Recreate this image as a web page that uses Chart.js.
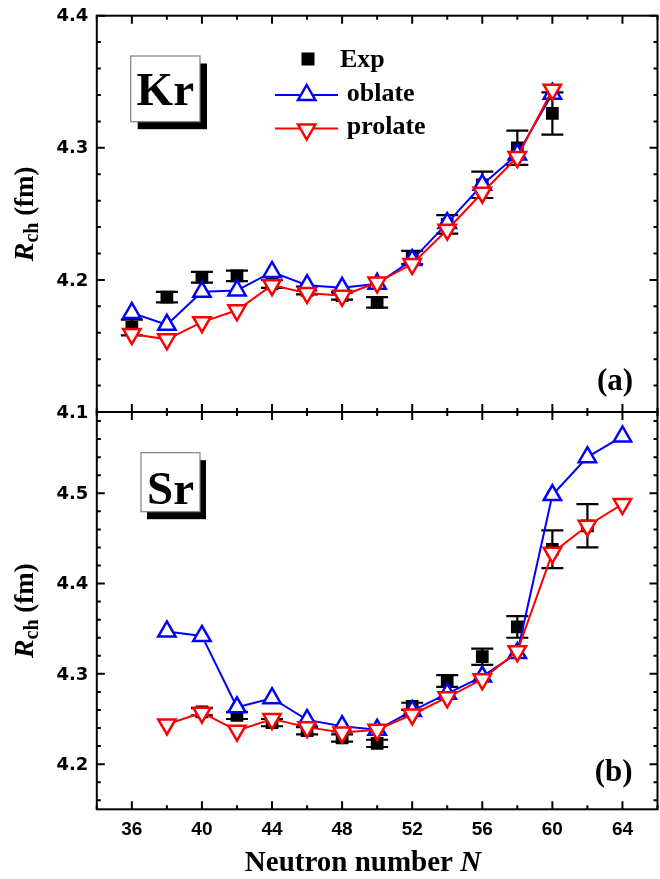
<!DOCTYPE html>
<html>
<head>
<meta charset="utf-8">
<script src="https://cdn.jsdelivr.net/npm/chart.js@4.4.1/dist/chart.umd.min.js"></script>
<style>
  html, body { margin: 0; padding: 0; background: #fff; }
  #wrap { position: relative; width: 660px; height: 879px; overflow: hidden; background: #fff; }
  #wrap canvas { position: absolute; left: 0; top: 0; }
</style>
</head>
<body>
<div id="wrap">
  <canvas id="srChart" width="670" height="879"></canvas>
  <canvas id="krChart" width="670" height="879"></canvas>
</div>
<script>
// Kr (panel a)
const krN = [36, 38, 40, 42, 44, 46, 48, 50, 52, 54, 56, 58, 60];
const krExp = [4.164, 4.187, 4.202, 4.203, 4.197, 4.192, 4.188, 4.183, 4.217, 4.242, 4.272, 4.300, 4.326];
const krExpErr = [0.006, 0.004, 0.004, 0.004, 0.003, 0.003, 0.003, 0.004, 0.005, 0.007, 0.010, 0.013, 0.016];
const krOblate = [4.175, 4.166, 4.191, 4.192, 4.206, 4.196, 4.194, 4.197, 4.215, 4.243, 4.272, 4.295, 4.341];
const krProlate = [4.159, 4.155, 4.168, 4.177, 4.196, 4.190, 4.188, 4.198, 4.212, 4.238, 4.266, 4.293, 4.344];

// Sr (panel b)
const srN = [38, 40, 42, 44, 46, 48, 50, 52, 54, 56, 58, 60, 62, 64];
const srOblate = [4.347, 4.342, 4.263, 4.273, 4.249, 4.242, 4.238, 4.259, 4.278, 4.297, 4.323, 4.498, 4.540, 4.563];
const srProlate = [4.244, 4.257, 4.237, 4.250, 4.241, 4.235, 4.238, 4.255, 4.274, 4.294, 4.325, 4.434, 4.464, 4.488];
const srExpN = [40, 42, 44, 46, 48, 50, 52, 54, 56, 58, 60, 62];
const srExp = [4.258, 4.254, 4.246, 4.237, 4.229, 4.223, 4.264, 4.292, 4.319, 4.352, 4.438, 4.464];
const srExpErr = [0.004, 0.004, 0.004, 0.004, 0.004, 0.004, 0.004, 0.0065, 0.009, 0.012, 0.021, 0.024];

// axis ticks
const xMajorTicks = [36, 40, 44, 48, 52, 56, 60, 64];
const xRange = [34, 66];
const krRange = [4.1, 4.4];
const srRange = [4.15, 4.59];

const SERIF = '"Liberation Serif", "Times New Roman", serif';
const W = 670, H = 879;

function pts(ns, vals) { return ns.map((n, i) => ({ x: n, y: vals[i] })); }

function theory(label, ns, vals, color, rot, order) {
  return {
    label, data: pts(ns, vals), showLine: true, tension: 0,
    borderColor: color, borderWidth: 2,
    pointStyle: 'triangle', pointRotation: rot, pointRadius: 10,
    pointBorderColor: color, pointBorderWidth: 2.5, pointBackgroundColor: '#fff',
    order
  };
}

function expSet(ns, vals) {
  return {
    label: 'Exp', data: pts(ns, vals), showLine: false,
    pointStyle: 'rect', pointRadius: 9, pointBackgroundColor: '#000',
    pointBorderWidth: 0, borderColor: '#000', order: 3
  };
}

function tri(ctx, x, y, r, down, color) {
  const s = down ? -1 : 1;
  ctx.beginPath();
  ctx.moveTo(x, y - s * r);
  ctx.lineTo(x + r * 0.866, y + s * r / 2);
  ctx.lineTo(x - r * 0.866, y + s * r / 2);
  ctx.closePath();
  ctx.fillStyle = '#fff'; ctx.fill();
  ctx.strokeStyle = color; ctx.lineWidth = 2.5; ctx.stroke();
}

function elementBox(ctx, x, y, w, h, dx, dy, text, tx, ty) {
  ctx.fillStyle = '#000';
  ctx.fillRect(x + dx, y + dy, w, h);
  ctx.fillStyle = '#fff';
  ctx.fillRect(x, y, w, h);
  ctx.strokeStyle = '#7f7f7f'; ctx.lineWidth = 1.2;
  ctx.strokeRect(x, y, w, h);
  ctx.fillStyle = '#000';
  ctx.font = 'bold 47px ' + SERIF;
  ctx.textAlign = 'center'; ctx.textBaseline = 'alphabetic';
  ctx.fillText(text, tx, ty);
}

function yTitle(ctx, cy) {
  ctx.save();
  ctx.translate(33, cy);
  ctx.rotate(-Math.PI / 2);
  ctx.fillStyle = '#000';
  ctx.textBaseline = 'alphabetic'; ctx.textAlign = 'left';
  const f1 = 'italic bold 28px ' + SERIF, f2 = 'bold 20px ' + SERIF, f3 = 'bold 27px ' + SERIF;
  ctx.font = f1; const w1 = ctx.measureText('R').width;
  ctx.font = f2; const w2 = ctx.measureText('ch').width;
  ctx.font = f3; const w3 = ctx.measureText(' (fm)').width;
  const x0 = -(w1 + w2 + w3) / 2;
  ctx.font = f1; ctx.fillText('R', x0, 0);
  ctx.font = f2; ctx.fillText('ch', x0 + w1, 5);
  ctx.font = f3; ctx.fillText(' (fm)', x0 + w1 + w2, 0);
  ctx.restore();
}

function panelPlugin(cfg) {
  return {
    id: 'panel',
    beforeDatasetsDraw(chart) {
      const { ctx, scales: { x, y } } = chart;
      ctx.save();
      ctx.strokeStyle = '#000'; ctx.lineWidth = 2.2;
      cfg.expN.forEach((n, i) => {
        const px = x.getPixelForValue(n);
        const y1 = y.getPixelForValue(cfg.exp[i] - cfg.err[i]);
        const y2 = y.getPixelForValue(cfg.exp[i] + cfg.err[i]);
        ctx.beginPath();
        ctx.moveTo(px, y1); ctx.lineTo(px, y2);
        ctx.moveTo(px - 11, y1); ctx.lineTo(px + 11, y1);
        ctx.moveTo(px - 11, y2); ctx.lineTo(px + 11, y2);
        ctx.stroke();
      });
      ctx.restore();
    },
    afterDraw(chart) {
      const { ctx, chartArea: a, scales: { x, y } } = chart;
      ctx.save();
      ctx.strokeStyle = '#000'; ctx.lineWidth = 2;
      ctx.strokeRect(a.left, a.top, a.right - a.left, a.bottom - a.top);

      // x ticks, inward on both sides
      ctx.beginPath();
      for (let n = xRange[0]; n <= xRange[1]; n += 2) {
        const px = x.getPixelForValue(n);
        const len = xMajorTicks.includes(n) ? 8 : 4;
        ctx.moveTo(px, a.bottom); ctx.lineTo(px, a.bottom - len);
        ctx.moveTo(px, a.top); ctx.lineTo(px, a.top + len);
      }
      // y ticks every 0.02, major every 0.1
      const k0 = Math.ceil(cfg.yRange[0] * 50 - 1e-6), k1 = Math.floor(cfg.yRange[1] * 50 + 1e-6);
      const yLabels = [];
      for (let k = k0; k <= k1; k++) {
        const py = y.getPixelForValue(k / 50);
        const major = k % 5 === 0;
        const len = major ? 8 : 4;
        ctx.moveTo(a.left, py); ctx.lineTo(a.left + len, py);
        ctx.moveTo(a.right, py); ctx.lineTo(a.right - len, py);
        if (major) yLabels.push([(k / 50).toFixed(1), py]);
      }
      ctx.stroke();

      ctx.fillStyle = '#000';
      ctx.font = 'bold 18px "DejaVu Sans", sans-serif';
      ctx.textAlign = 'right'; ctx.textBaseline = 'middle';
      yLabels.forEach(([t, py]) => ctx.fillText(t, a.left - 8.5, py + 1));

      if (cfg.xLabels) {
        ctx.font = 'bold 19px "Liberation Sans", Arial, sans-serif';
        ctx.textAlign = 'center';
        xMajorTicks.forEach(n => ctx.fillText(String(n), x.getPixelForValue(n), 830));
        // x title with italic N
        ctx.textBaseline = 'alphabetic'; ctx.textAlign = 'left';
        const f1 = 'bold 29px ' + SERIF, f2 = 'italic bold 29px ' + SERIF;
        ctx.font = f1; const w1 = ctx.measureText('Neutron number ').width;
        ctx.font = f2; const w2 = ctx.measureText('N').width;
        const x0 = 363 - (w1 + w2) / 2;
        ctx.font = f1; ctx.fillText('Neutron number ', x0, 871);
        ctx.font = f2; ctx.fillText('N', x0 + w1, 871);
      }

      yTitle(ctx, (a.top + a.bottom) / 2);

      // panel tag
      ctx.font = 'bold 31px ' + SERIF;
      ctx.textAlign = 'center'; ctx.textBaseline = 'alphabetic';
      ctx.fillStyle = '#000';
      ctx.fillText(cfg.tag, cfg.tagX, cfg.tagY);

      cfg.extra(ctx);
      ctx.restore();
    }
  };
}

function makeChart(id, datasets, yRange, padTop, padBottom, cfg) {
  return new Chart(document.getElementById(id), {
    type: 'line',
    data: { datasets },
    options: {
      responsive: false,
      animation: false,
      events: [],
      layout: { padding: { left: 96.8, right: W - 663.7, top: padTop, bottom: padBottom } },
      scales: {
        x: { type: 'linear', min: xRange[0], max: xRange[1], display: false },
        y: { type: 'linear', min: yRange[0], max: yRange[1], display: false }
      },
      plugins: { legend: { display: false }, tooltip: { enabled: false } }
    },
    plugins: [panelPlugin(Object.assign({ yRange }, cfg))]
  });
}

makeChart('krChart', [
  expSet(krN, krExp),
  theory('oblate', krN, krOblate, '#0000ff', 0, 2),
  theory('prolate', krN, krProlate, '#ff0000', 180, 1)
], krRange, 15.7, H - 412, {
  expN: krN, exp: krExp, err: krExpErr, xLabels: false,
  tag: '(a)', tagX: 615, tagY: 390,
  extra(ctx) {
    elementBox(ctx, 130.7, 56, 69.3, 65.7, 7, 7.5, 'Kr', 165.3, 105);
    // legend
    ctx.fillStyle = '#000';
    ctx.fillRect(301.5, 52.5, 13, 13);
    ctx.font = 'bold 26px ' + SERIF;
    ctx.textAlign = 'left'; ctx.textBaseline = 'middle';
    ctx.fillText('Exp', 340, 60);
    ctx.lineWidth = 2;
    ctx.strokeStyle = '#0000ff';
    ctx.beginPath(); ctx.moveTo(275, 95); ctx.lineTo(338, 95); ctx.stroke();
    tri(ctx, 306.7, 95, 10, false, '#0000ff');
    ctx.lineWidth = 2;
    ctx.strokeStyle = '#ff0000';
    ctx.beginPath(); ctx.moveTo(275, 128.5); ctx.lineTo(338, 128.5); ctx.stroke();
    tri(ctx, 306.7, 129.5, 10, true, '#ff0000');
    ctx.fillStyle = '#000';
    ctx.fillText('oblate', 346.7, 94);
    ctx.fillText('prolate', 346.7, 127);
  }
});

makeChart('srChart', [
  expSet(srExpN, srExp),
  theory('oblate', srN, srOblate, '#0000ff', 0, 2),
  theory('prolate', srN, srProlate, '#ff0000', 180, 1)
], srRange, 412, H - 809.3, {
  expN: srExpN, exp: srExp, err: srExpErr, xLabels: true,
  tag: '(b)', tagX: 613.6, tagY: 781,
  extra(ctx) {
    elementBox(ctx, 141, 452.7, 59, 59, 6, 7.5, 'Sr', 170.5, 504);
  }
});
</script>
</body>
</html>
